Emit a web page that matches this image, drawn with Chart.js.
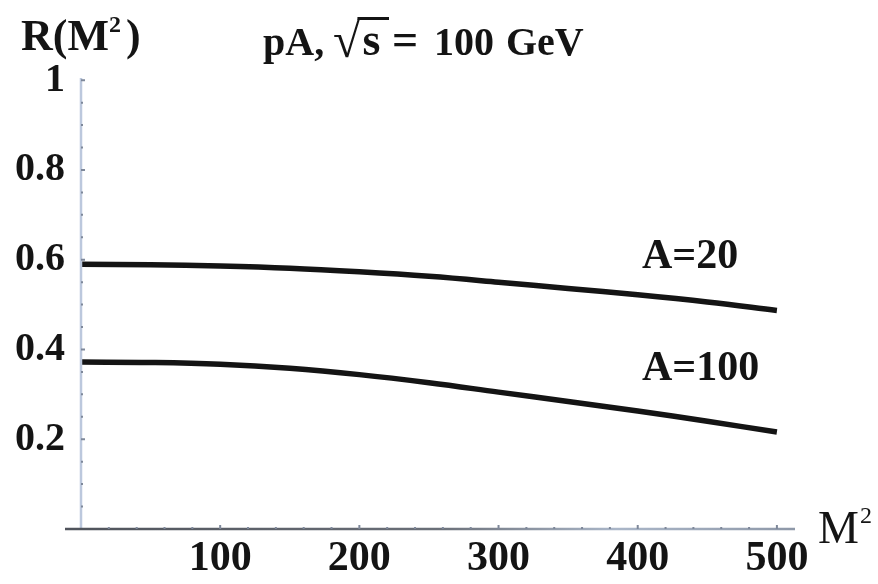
<!DOCTYPE html>
<html>
<head>
<meta charset="utf-8">
<script src="https://cdn.jsdelivr.net/npm/chart.js@4"></script>
<style>
  html, body { margin: 0; padding: 0; background: #fff; }
  #wrap { width: 878px; height: 584px; position: relative; }
</style>
</head>
<body>
<div id="wrap"><canvas id="c" width="878" height="584"></canvas></div>
<script>
// M^2 sample points and ratio R(M^2) for two nuclei, pA at sqrt(s) = 100 GeV
const massSq = [0, 50, 100, 150, 200, 250, 300, 350, 400, 450, 500];
const ratioA20 = [0.590, 0.589, 0.586, 0.581, 0.573, 0.563, 0.550, 0.536, 0.522, 0.506, 0.487];
const ratioA100 = [0.372, 0.371, 0.367, 0.358, 0.344, 0.326, 0.305, 0.284, 0.263, 0.240, 0.216];
const xTicks = [100, 200, 300, 400, 500];
const yTicks = [0.2, 0.4, 0.6, 0.8, 1];
const curveLabels = [
  { text: 'A=20', x: 403, y: 0.582 },
  { text: 'A=100', x: 403, y: 0.331 }
];

const SERIF = '"Liberation Serif", "DejaVu Serif", serif';

const pts = (ys) => massSq.map((x, i) => ({ x, y: ys[i] }));

// Axis lines, inward tick marks and annotation text
const decor = {
  id: 'decor',
  afterDraw(chart) {
    const ctx = chart.ctx;
    const xs = chart.scales.x, ys = chart.scales.y;
    const x0 = xs.getPixelForValue(0);
    const y0 = ys.getPixelForValue(0);
    ctx.save();
    // vertical axis
    ctx.strokeStyle = '#bcc8dd';
    ctx.lineWidth = 2.5;
    ctx.beginPath();
    ctx.moveTo(x0, ys.top);
    ctx.lineTo(x0, y0);
    ctx.stroke();
    ctx.strokeStyle = '#7e889a';
    ctx.lineWidth = 2;
    for (let v = 0.05; v <= 1.001; v += 0.05) {
      const py = ys.getPixelForValue(v);
      ctx.beginPath();
      ctx.moveTo(x0, py);
      ctx.lineTo(x0 + (Math.abs(v * 5 - Math.round(v * 5)) < 1e-6 ? 4 : 2), py);
      ctx.stroke();
    }
    // horizontal axis, dark on the left fading to grey-blue on the right
    const grad = ctx.createLinearGradient(x0, 0, xs.right, 0);
    grad.addColorStop(0, '#50545c');
    grad.addColorStop(0.5, '#6a6f78');
    grad.addColorStop(0.75, '#aab6c8');
    grad.addColorStop(1, '#8e98a8');
    ctx.strokeStyle = grad;
    ctx.lineWidth = 2.5;
    ctx.beginPath();
    ctx.moveTo(x0 - 16, y0);
    ctx.lineTo(xs.right, y0);
    ctx.stroke();
    ctx.strokeStyle = '#7e889a';
    ctx.lineWidth = 2;
    for (let v = 20; v <= 500; v += 20) {
      const px = xs.getPixelForValue(v);
      ctx.beginPath();
      ctx.moveTo(px, y0);
      ctx.lineTo(px, y0 - (v % 100 === 0 ? 4 : 2));
      ctx.stroke();
    }

    ctx.fillStyle = '#141414';
    ctx.textBaseline = 'alphabetic';
    ctx.textAlign = 'left';

    // title: pA, sqrt(s) = 100 GeV
    const ty = 55;
    ctx.font = 'bold 40px ' + SERIF;
    ctx.fillText('pA,', 263, ty);
    ctx.font = 'bold 50px ' + SERIF;
    const rad = ctx.measureText('√');
    ctx.fillText('√', 333, ty + 2);
    const radTop = ty + 2 - rad.actualBoundingBoxAscent;
    const radRight = 333 + rad.width;
    ctx.font = 'bold 46px ' + SERIF;
    ctx.fillText('s', radRight + 2, ty);
    ctx.strokeStyle = '#141414';
    ctx.lineWidth = 3;
    ctx.beginPath();
    ctx.moveTo(radRight - 3, radTop + 1.5);
    ctx.lineTo(389, radTop + 1.5);
    ctx.stroke();
    ctx.fillText('=', 392, ty);
    ctx.font = 'bold 40px ' + SERIF;
    ctx.fillText('100', 434, ty);
    ctx.fillText('GeV', 506, ty);

    // vertical axis title R(M^2)
    ctx.font = 'bold 44px ' + SERIF;
    let ax = 21;
    const ay = 50;
    ctx.fillText('R(M', ax, ay); ax += ctx.measureText('R(M').width;
    ctx.font = 'bold 24px ' + SERIF;
    ctx.fillText('2', ax, ay - 18); ax += ctx.measureText('2').width + 5;
    ctx.font = 'bold 44px ' + SERIF;
    ctx.fillText(')', ax, ay);

    // horizontal axis title M^2
    ctx.font = '46px ' + SERIF;
    let mx = 818;
    const my = 543;
    ctx.fillText('M', mx, my); mx += ctx.measureText('M').width + 1;
    ctx.font = '24px ' + SERIF;
    ctx.fillText('2', mx, my - 20);

    // curve labels
    ctx.font = 'bold 42px ' + SERIF;
    curveLabels.forEach(l => {
      ctx.fillText(l.text, xs.getPixelForValue(l.x), ys.getPixelForValue(l.y));
    });
    ctx.restore();
  }
};

new Chart(document.getElementById('c'), {
  type: 'line',
  data: {
    datasets: [
      { label: 'A=20', data: pts(ratioA20) },
      { label: 'A=100', data: pts(ratioA100) }
    ]
  },
  options: {
    responsive: false,
    animation: false,
    layout: { padding: { top: 78, right: 83, left: 0, bottom: 0 } },
    elements: {
      line: { borderColor: '#141414', borderWidth: 5.5, tension: 0.4 },
      point: { radius: 0 }
    },
    plugins: { legend: { display: false }, tooltip: { enabled: false } },
    scales: {
      x: {
        type: 'linear', min: 0, max: 513,
        grid: { display: false, drawTicks: false },
        border: { display: false },
        afterBuildTicks: s => { s.ticks = xTicks.map(v => ({ value: v })); },
        afterFit: s => { s.height = 55; },
        ticks: { color: '#141414', padding: 5, maxRotation: 0,
          font: { family: SERIF, size: 42, weight: 'bold' } }
      },
      y: {
        type: 'linear', min: 0, max: 1.005,
        grid: { display: false, drawTicks: false },
        border: { display: false },
        afterBuildTicks: s => { s.ticks = yTicks.map(v => ({ value: v })); },
        afterFit: s => { s.width = 81; },
        ticks: { color: '#141414', padding: 16,
          font: { family: SERIF, size: 40, weight: 'bold' },
          callback: v => String(v) }
      }
    }
  },
  plugins: [decor]
});
</script>
</body>
</html>
